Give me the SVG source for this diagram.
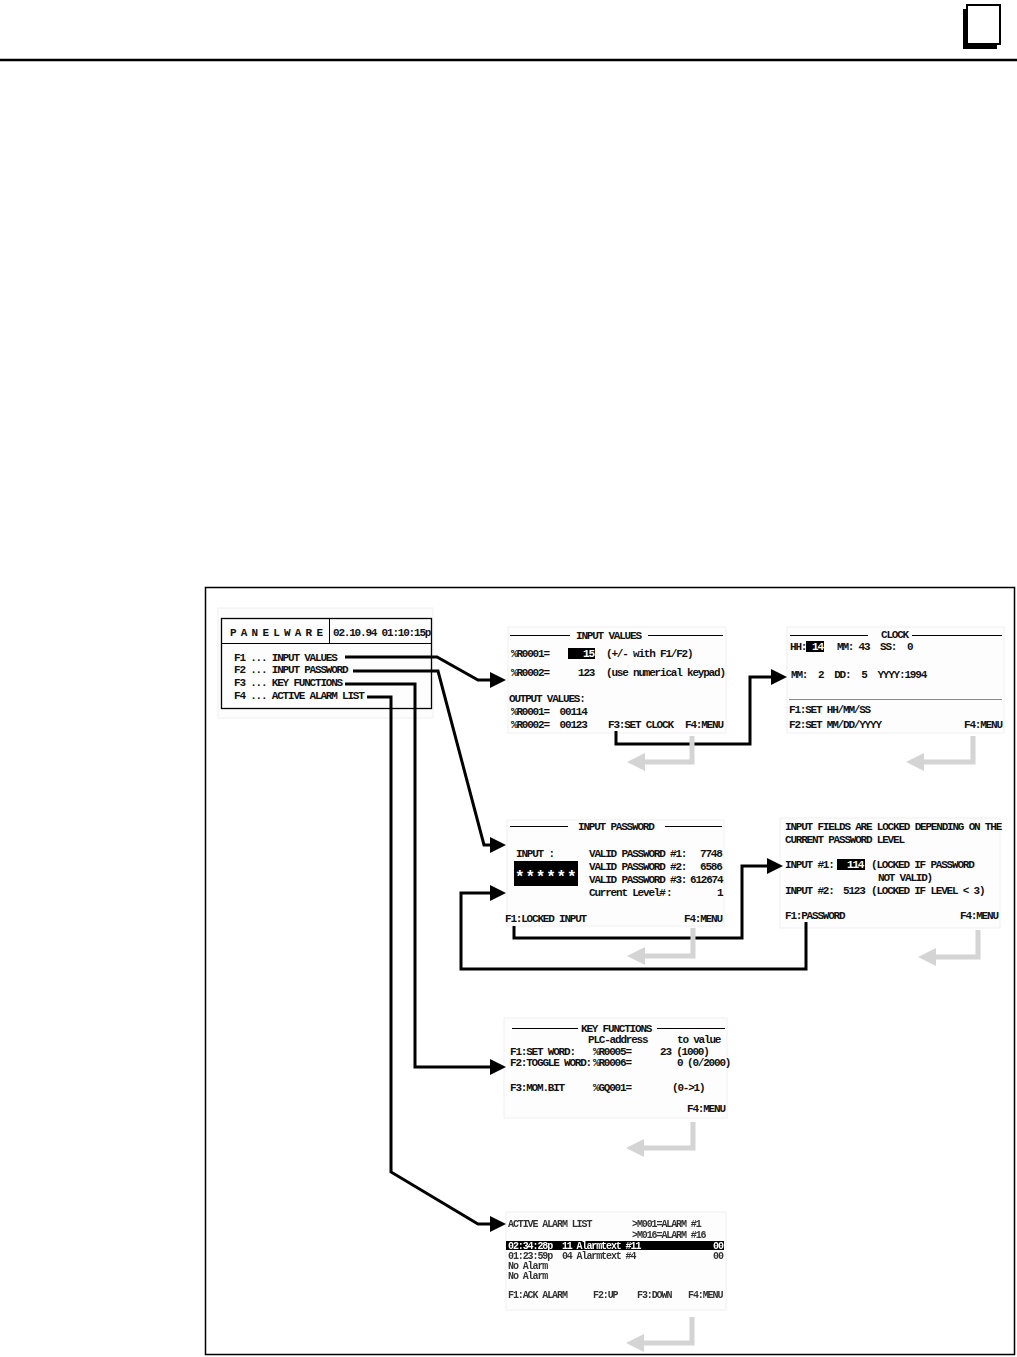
<svg xmlns="http://www.w3.org/2000/svg" width="1017" height="1357" viewBox="0 0 1017 1357" xml:space="preserve">
<style>
.m{font-family:"Liberation Mono","DejaVu Sans Mono",monospace;font-size:11px;font-weight:bold;letter-spacing:-1.2px;fill:#111;white-space:pre}
.al{font-size:10px;letter-spacing:-1.1px;fill:#333}
.m.w{fill:#fff}
.pbg{fill:#fdfdfd;stroke:#f0f0f0;stroke-width:1}
.tl{stroke:#000;stroke-width:1}
.con{fill:none;stroke:#000;stroke-width:3;stroke-linejoin:miter}
.ret{fill:none;stroke:#d4d4d4;stroke-width:5}
</style>
<defs>
<marker id="ah" viewBox="0 0 16 16" refX="12" refY="8" markerWidth="16" markerHeight="16" markerUnits="userSpaceOnUse" orient="auto"><path d="M0,0 L16,8 L0,16z" fill="#000"/></marker>
<marker id="gh" viewBox="0 0 18 18" refX="12" refY="9" markerWidth="18" markerHeight="18" markerUnits="userSpaceOnUse" orient="auto"><path d="M0,0 L18,9 L0,18z" fill="#d4d4d4"/></marker>
<filter id="soft"><feGaussianBlur stdDeviation="0.35"/></filter>
</defs>
<rect width="1017" height="1357" fill="#fff"/>
<g id="header">
<line x1="0" y1="60" x2="1017" y2="60" stroke="#000" stroke-width="2.5"/>
<rect x="963" y="9" width="34" height="40" fill="#000"/>
<rect x="967" y="5" width="33" height="39" fill="#fff" stroke="#000" stroke-width="2"/>
</g>
<rect id="frame" x="205.5" y="587.5" width="809" height="767" fill="none" stroke="#000" stroke-width="1.5"/>

<g id="panelware">
<rect x="218" y="608" width="215" height="110" class="pbg"/>
<rect x="221.5" y="618.5" width="210" height="90" fill="none" stroke="#000" stroke-width="1.3"/>
<line x1="221.5" y1="643.5" x2="431.5" y2="643.5" class="tl"/>
<line x1="329.5" y1="618.5" x2="329.5" y2="643.5" class="tl"/>
<text class="m" x="230" y="636">P A N E L W A R E</text>
<text class="m" x="333" y="636">02.10.94 01:10:15p</text>
<text class="m" x="234" y="661">F1 ... INPUT VALUES</text>
<text class="m" x="234" y="673">F2 ... INPUT PASSWORD</text>
<text class="m" x="234" y="686">F3 ... KEY FUNCTIONS</text>
<text class="m" x="234" y="699">F4 ... ACTIVE ALARM LIST</text>
</g>

<g id="input-values">
<rect x="508" y="627" width="218" height="106" class="pbg"/>
<line x1="510" y1="635.5" x2="570" y2="635.5" class="tl"/>
<text class="m" x="576" y="639">INPUT VALUES</text>
<line x1="648" y1="635.5" x2="723" y2="635.5" class="tl"/>
<text class="m" x="511" y="657">%R0001=</text>
<rect x="568" y="648" width="27" height="11" fill="#000"/>
<text class="m w" x="583" y="657">15</text>
<text class="m" x="606" y="657">(+/- with F1/F2)</text>
<text class="m" x="511" y="676">%R0002=</text>
<text class="m" x="578" y="676">123</text>
<text class="m" x="606" y="676">(use numerical keypad)</text>
<text class="m" x="509" y="702">OUTPUT VALUES:</text>
<text class="m" x="511" y="715">%R0001=  00114</text>
<text class="m" x="511" y="728">%R0002=  00123</text>
<text class="m" x="608" y="728">F3:SET CLOCK</text>
<text class="m" x="685" y="728">F4:MENU</text>
</g>

<g id="clock">
<rect x="787" y="627" width="217" height="106" class="pbg"/>
<line x1="790" y1="635.5" x2="868" y2="635.5" class="tl"/>
<text class="m" x="881" y="638">CLOCK</text>
<line x1="912" y1="635.5" x2="1002" y2="635.5" class="tl"/>
<text class="m" x="790" y="650">HH:</text>
<rect x="806" y="641" width="18" height="11" fill="#000"/>
<text class="m w" x="812" y="650">14</text>
<text class="m" x="837" y="650">MM: 43</text>
<text class="m" x="880" y="650">SS:  0</text>
<text class="m" x="791" y="678">MM:  2  DD:  5  YYYY:1994</text>
<line x1="789" y1="699.5" x2="1002" y2="699.5" stroke="#888" stroke-width="1"/>
<text class="m" x="789" y="713">F1:SET HH/MM/SS</text>
<text class="m" x="789" y="728">F2:SET MM/DD/YYYY</text>
<text class="m" x="964" y="728">F4:MENU</text>
</g>

<g id="input-password">
<rect x="507" y="820" width="217" height="106" class="pbg"/>
<line x1="510" y1="826.5" x2="568" y2="826.5" class="tl"/>
<text class="m" x="578" y="830">INPUT PASSWORD</text>
<line x1="665" y1="826.5" x2="722" y2="826.5" class="tl"/>
<text class="m" x="516" y="857">INPUT :</text>
<rect x="514" y="861" width="64" height="25" fill="#000"/>
<text class="m w" x="515" y="882" style="font-size:16px;letter-spacing:0.8px">******</text>
<text class="m" x="589" y="857">VALID PASSWORD #1:</text>
<text class="m" x="700" y="857">7748</text>
<text class="m" x="589" y="870">VALID PASSWORD #2:</text>
<text class="m" x="700" y="870">6586</text>
<text class="m" x="589" y="883">VALID PASSWORD #3:</text>
<text class="m" x="690" y="883">612674</text>
<text class="m" x="589" y="896">Current Level#</text>
<text class="m" x="666" y="896">:</text>
<text class="m" x="717" y="896">1</text>
<text class="m" x="505" y="922">F1:LOCKED INPUT</text>
<text class="m" x="684" y="922">F4:MENU</text>
</g>

<g id="input-fields">
<rect x="780" y="818" width="220" height="110" class="pbg"/>
<text class="m" x="785" y="830">INPUT FIELDS ARE LOCKED DEPENDING ON THE</text>
<text class="m" x="785" y="843">CURRENT PASSWORD LEVEL</text>
<text class="m" x="785" y="868">INPUT #1:</text>
<rect x="837" y="859" width="28" height="11" fill="#000"/>
<text class="m w" x="847" y="868">114</text>
<text class="m" x="871" y="868">(LOCKED IF PASSWORD</text>
<text class="m" x="878" y="881">NOT VALID)</text>
<text class="m" x="785" y="894">INPUT #2:</text>
<text class="m" x="843" y="894">5123</text>
<text class="m" x="871" y="894">(LOCKED IF LEVEL &lt; 3)</text>
<text class="m" x="785" y="919">F1:PASSWORD</text>
<text class="m" x="960" y="919">F4:MENU</text>
</g>

<g id="key-functions">
<rect x="504" y="1018" width="223" height="100" class="pbg"/>
<line x1="512" y1="1028.5" x2="578" y2="1028.5" class="tl"/>
<text class="m" x="581" y="1032">KEY FUNCTIONS</text>
<line x1="657" y1="1028.5" x2="725" y2="1028.5" class="tl"/>
<text class="m" x="588" y="1043">PLC-address</text>
<text class="m" x="677" y="1043">to value</text>
<text class="m" x="510" y="1055">F1:SET WORD:</text>
<text class="m" x="593" y="1055">%R0005=</text>
<text class="m" x="660" y="1055">23 (1000)</text>
<text class="m" x="510" y="1066">F2:TOGGLE WORD:</text>
<text class="m" x="593" y="1066">%R0006=</text>
<text class="m" x="677" y="1066">0</text>
<text class="m" x="687" y="1066">(0/2000)</text>
<text class="m" x="510" y="1091">F3:MOM.BIT</text>
<text class="m" x="593" y="1091">%GQ001=</text>
<text class="m" x="672" y="1091">(0-&gt;1)</text>
<text class="m" x="687" y="1112">F4:MENU</text>
</g>

<g id="active-alarm-list" filter="url(#soft)">
<rect x="506" y="1212" width="220" height="98" class="pbg"/>
<text class="m al" x="508" y="1227">ACTIVE ALARM LIST</text>
<text class="m al" x="632" y="1227">&gt;M001=ALARM #1</text>
<text class="m al" x="632" y="1238">&gt;M016=ALARM #16</text>
<rect x="506" y="1241" width="218" height="9" fill="#000"/>
<text class="m al w" x="508" y="1249">02:34:28p  11 Alarmtext #11</text>
<text class="m al w" x="713" y="1249">00</text>
<text class="m al" x="508" y="1259">01:23:59p  04 Alarmtext #4</text>
<text class="m al" x="713" y="1259">00</text>
<text class="m al" x="508" y="1269">No Alarm</text>
<text class="m al" x="508" y="1279">No Alarm</text>
<text class="m al" x="508" y="1298">F1:ACK ALARM</text>
<text class="m al" x="593" y="1298">F2:UP</text>
<text class="m al" x="637" y="1298">F3:DOWN</text>
<text class="m al" x="688" y="1298">F4:MENU</text>
</g>

<g id="connectors">
<path class="con" d="M345,657 H437 L478,680 H502" marker-end="url(#ah)"/>
<path class="con" d="M353,671 H438 L484,845 H502" marker-end="url(#ah)"/>
<path class="con" d="M345,684 H415 V1067 H502" marker-end="url(#ah)"/>
<path class="con" d="M367,697 H391 V1172 L478,1224 H502" marker-end="url(#ah)"/>
<path class="con" d="M616,731 V744 H750 V677 H783" marker-end="url(#ah)"/>
<path class="con" d="M514,926 V938 H742 V866 H779" marker-end="url(#ah)"/>
<path class="con" d="M806,922 V969 H461 V893 H502" marker-end="url(#ah)"/>
<path class="ret" d="M692,736 V762 H633" marker-end="url(#gh)"/>
<path class="ret" d="M973,736 V762 H912" marker-end="url(#gh)"/>
<path class="ret" d="M693,928 V956 H633" marker-end="url(#gh)"/>
<path class="ret" d="M978,930 V957 H924" marker-end="url(#gh)"/>
<path class="ret" d="M693,1122 V1148 H632" marker-end="url(#gh)"/>
<path class="ret" d="M692,1317 V1343 H632" marker-end="url(#gh)"/>
</g>
</svg>
